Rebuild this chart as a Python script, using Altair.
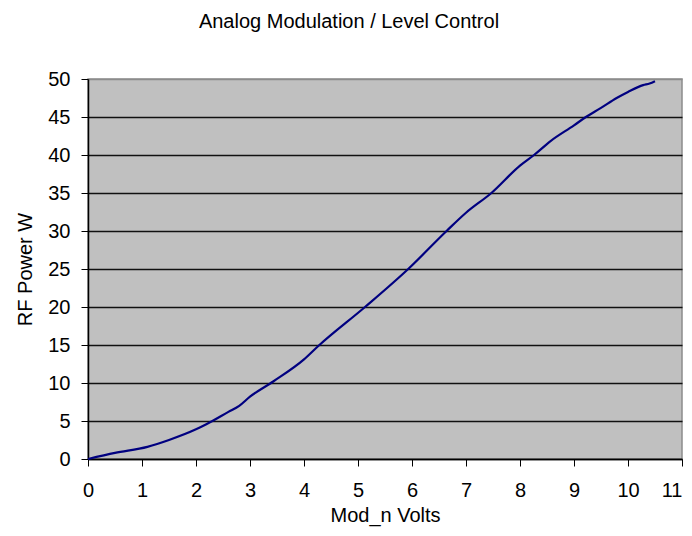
import altair as alt
import pandas as pd

volts = [0.0, 0.5, 1.1, 1.5, 2.0, 2.2, 2.6, 2.8, 3.0, 3.43, 4.0, 4.27, 5.13, 5.93,
         6.64, 7.0, 7.47, 8.0, 8.26, 8.56, 9.0, 9.22, 9.5, 9.79, 10.0, 10.28, 10.4, 10.5]
power = [0.0, 0.8, 1.6, 2.5, 3.9, 4.6, 6.2, 7.0, 8.2, 10.2, 13.1, 14.9, 20.0, 25.0,
         30.0, 32.4, 35.0, 38.6, 40.0, 41.8, 43.9, 45.0, 46.2, 47.5, 48.3, 49.2, 49.4, 49.7]
title_text = ["Analog Modulation / Level Control"]

df = pd.DataFrame({"v": volts, "p": power})
tdf = pd.DataFrame({"t": title_text})

FONT = "Liberation Sans"

line = alt.Chart(df).mark_line(color="#000080", strokeWidth=2.2, interpolate="monotone").encode(
    x=alt.X("v:Q", scale=alt.Scale(domain=[0, 11], nice=False),
            axis=alt.Axis(title="Mod_n Volts", values=list(range(0, 12)), grid=False,
                          domainColor="black", domainWidth=1.5, tickColor="black", tickSize=7,
                          tickWidth=1, labelPadding=14, labelFontSize=20, labelFont=FONT,
                          labelColor="black", labelFlush=False, labelOverlap=False,
                          labelAlign={"condition": {"test": "datum.value == 11", "value": "right"}, "value": "center"},
                          titleFont=FONT, titleFontSize=20, titleFontWeight="normal",
                          titleColor="black", titleBaseline="alphabetic", titleY=62)),
    y=alt.Y("p:Q", scale=alt.Scale(domain=[0, 50], nice=False),
            axis=alt.Axis(title="RF Power W", values=list(range(0, 51, 5)), grid=True,
                          gridColor={"condition": {"test": "datum.value == 50", "value": "#8c8c8c"}, "value": "#111111"},
                          gridWidth=1.5,
                          domainColor="black", domainWidth=1.5, tickColor="black", tickSize=7,
                          tickWidth=1, labelPadding=11, labelFontSize=20, labelFont=FONT,
                          labelColor="black", labelOverlap=False,
                          titleFont=FONT, titleFontSize=20, titleFontWeight="normal",
                          titleColor="black", titleAngle=-90, titleBaseline="alphabetic",
                          titleX=-57, titleY=190, titleAlign="center")),
)

title = alt.Chart(tdf).mark_text(font=FONT, fontSize=20, color="black", align="center",
                                 baseline="alphabetic").encode(
    text="t:N", x=alt.value(261), y=alt.value(-51)
)

chart = alt.layer(line, title).properties(
    width=594,
    height=380,
    padding={"left": 80, "top": 71, "right": 2, "bottom": 69},
    autosize=alt.AutoSizeParams(type="none"),
    background="white",
).configure_view(
    fill="#c0c0c0", stroke="#8c8c8c", strokeWidth=1.5
)

chart.save("out.html", embed_options={"renderer": "svg", "actions": False})
